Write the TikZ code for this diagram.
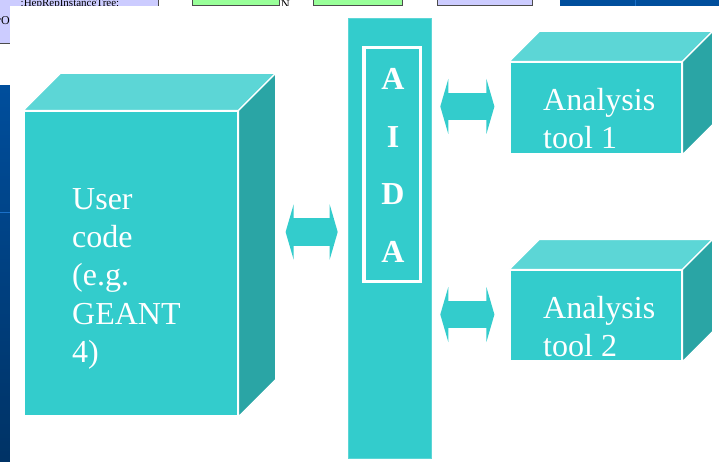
\documentclass[tikz,border=0pt]{standalone}
\usepackage{fontspec}
\setmainfont{Liberation Serif}
\usepackage{tikz}
\usetikzlibrary{arrows.meta,positioning,calc}

\definecolor{aidacyan}{HTML}{33CCCC}
\definecolor{aidatop}{HTML}{5CD6D6}
\definecolor{aidaside}{HTML}{2AA5A5}
\definecolor{slideblue}{HTML}{004E9C}
\definecolor{slidelight}{HTML}{1A70C8}
\definecolor{umlviolet}{HTML}{CCCCFF}
\definecolor{umlgreen}{HTML}{99FF99}

\begin{document}
\begin{tikzpicture}[x=1pt, y=-1pt,
  front/.style={fill=aidacyan, draw=white, line width=1.2pt, inner sep=0pt},
  topface/.style={fill=aidatop, draw=white, line width=1.2pt, line join=round},
  sideface/.style={fill=aidaside, draw=white, line width=1.2pt, line join=round},
  lab/.style={text=white, font=\fontsize{32}{38.4}\selectfont, align=left, inner sep=0pt, anchor=north west},
  letter/.style={text=white, font=\bfseries\fontsize{32}{57.5}\selectfont, align=center, inner sep=0pt},
  link/.style={aidacyan, line width=27pt,
    {Triangle[width=55pt,length=8pt,line width=0pt]}-{Triangle[width=55pt,length=8pt,line width=0pt]},
    preaction={draw=aidacyan, line width=27pt, arrows=-, shorten >=4pt, shorten <=4pt}},
  umlbox/.style={draw=black!70, line width=0.8pt},
  umltext/.style={font=\fontsize{11}{13}\selectfont, inner sep=0pt}
]
\useasboundingbox (0,0) rectangle (719,462);

% pieces of the slide underneath
\filldraw[fill=umlviolet, umlbox] (-2,-2) rectangle (158,43);
\node[umltext, anchor=base] (umlname) at (70,6.5) {:HepRepInstanceTree:};
\node[umltext, font=\fontsize{12}{14}\selectfont, anchor=base west] (umlcut) at (-3,25) {rO};
\filldraw[fill=umlgreen, umlbox] (192,-2) rectangle (279,5);
\node[umltext, font=\fontsize{12}{14}\selectfont, anchor=base west] (umlN) at (281,9) {N};
\filldraw[fill=umlgreen, umlbox] (313,-2) rectangle (402,5);
\filldraw[fill=umlviolet, umlbox] (437,-2) rectangle (532,5);
\fill[slideblue] (560,0) rectangle (719,6);
\draw[slidelight, line width=1pt] (635,0) -- (635,6);
\shade[top color=slideblue, bottom color=slideblue!65!black] (0,86) rectangle (10,462);
\draw[slidelight, line width=1pt] (0,213) -- (10,213);
\fill[white] (10,6) rectangle (719,462);

% boxes
\node[front, minimum width=214pt, minimum height=305pt] (user) at (131,263.5) {};
\node[front, minimum width=172pt, minimum height=92pt] (tool1) at (596,108) {};
\node[front, minimum width=172pt, minimum height=91pt] (tool2) at (596,315.5) {};
\foreach \b/\dep in {user/37, tool1/30, tool2/30}{
  \draw[topface] (\b.north west) -- (\b.north east) -- ++(\dep,-\dep)
    -- ($(\b.north west)+(\dep,-\dep)$) -- cycle;
  \draw[sideface] (\b.north east) -- (\b.south east) -- ++(\dep,-\dep)
    -- ($(\b.north east)+(\dep,-\dep)$) -- cycle;
}
\node[lab] (userlab) at (72,188) {User\\code\\(e.g.\\GEANT\\4)};
\node[lab] (lab1) at (543,88) {Analysis\\tool 1};
\node[lab] (lab2) at (543,296) {Analysis\\tool 2};

% AIDA bar
\node[fill=aidacyan, draw=aidatop, line width=0.6pt, minimum width=83pt, minimum height=440pt, inner sep=0pt] (aida) at (389.5,238) {};
\node[draw=white, line width=3.5pt, minimum width=56.5pt, minimum height=233.5pt, inner sep=0pt] (frame) at (392,164.5) {};
\node[letter, anchor=north] (letters) at (393,68.5) {A\\I\\D\\A};

% links
\draw[link] ($(user.east)+(47,-31.5)$) -- ($(aida.west)+(-10,-6)$);
\draw[link] ($(aida.east)+(9,-131.5)$) -- ($(tool1.west)+(-15,-1.5)$);
\draw[link] ($(aida.east)+(9,76.5)$) -- ($(tool2.west)+(-15,-1)$);
\end{tikzpicture}
\end{document}
